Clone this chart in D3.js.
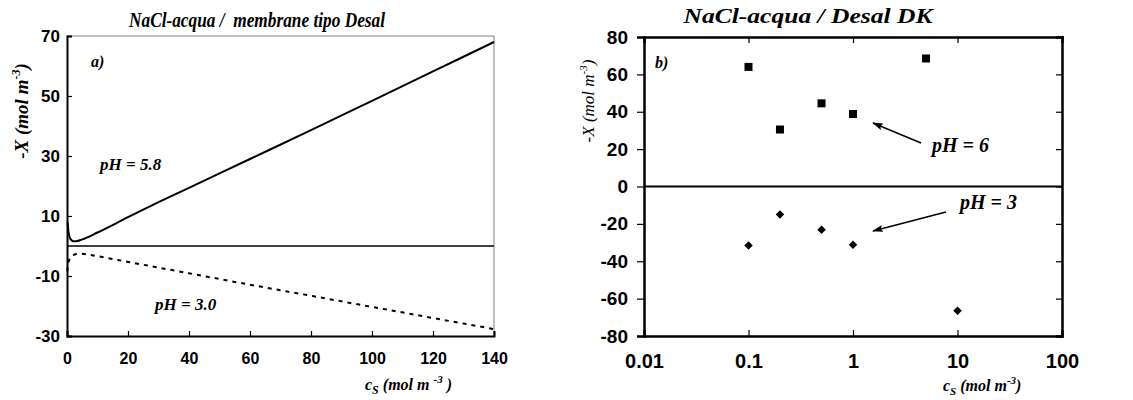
<!DOCTYPE html>
<html>
<head>
<meta charset="utf-8">
<script src="https://cdn.jsdelivr.net/npm/d3@7"></script>
<style>
  html, body { margin: 0; padding: 0; background: #fff; }
  svg { display: block; }
  .tick text { font-family: "Liberation Sans", Arial, sans-serif; font-weight: bold; fill: #000; }
  .serif { font-family: "Liberation Serif", "Times New Roman", serif; fill: #000; }
</style>
</head>
<body>
<svg id="chart" width="1133" height="400"></svg>
<script>
// ---- Panel a): fixed-charge curves along the salt concentration ----
const csA = [0.2, 0.5, 1, 1.5, 2, 3, 5, 10, 20, 30, 40, 60, 80, 100, 120, 140];
const xPH58 = [8, 4.5, 2.6, 1.9, 1.6, 1.6, 2.2, 4.5, 9.6, 14.6, 19.4, 29, 38.6, 48.4, 58.2, 68];
const csA3 = [0.1, 0.3, 0.6, 1, 2, 3, 4, 5, 7, 10, 20, 40, 60, 80, 100, 120, 140];
const xPH30 = [-8.5, -6.5, -5, -4, -3.1, -2.7, -2.6, -2.6, -2.9, -3.4, -5.3, -9.1, -12.9, -16.6, -20.3, -24, -27.7];
const ticksAx = [0, 20, 40, 60, 80, 100, 120, 140];
const ticksAy = [-30, -10, 10, 30, 50, 70];

// ---- Panel b): measured points, Desal DK ----
const csB6 = [0.1, 0.2, 0.5, 1, 5];
const xPH6 = [64, 30.5, 44.5, 38.8, 68.5];
const csB3 = [0.1, 0.2, 0.5, 1, 10];
const xPH3 = [-31.6, -15, -23.2, -31.2, -66.5];
const ticksBx = [0.01, 0.1, 1, 10, 100];
const ticksBxLabels = ["0.01", "0.1", "1", "10", "100"];
const ticksBy = [-80, -60, -40, -20, 0, 20, 40, 60, 80];

const svg = d3.select("#chart");
const plain = d => String(d); // tick labels with an ASCII hyphen for negatives

// arrowhead marker (tip at the end of the line)
svg.append("defs").append("marker")
  .attr("id", "arrow")
  .attr("viewBox", "0 0 11 7")
  .attr("refX", 10).attr("refY", 3.5)
  .attr("markerWidth", 11).attr("markerHeight", 7)
  .attr("markerUnits", "userSpaceOnUse")
  .attr("orient", "auto")
  .append("path").attr("d", "M0,0 L11,3.5 L0,7 L2,3.5 Z").attr("fill", "#000");

// helper for label text with sub/superscripts
function richText(g, parts) {
  parts.forEach(p => {
    const t = g.append("tspan").text(p.t);
    if (p.dy) t.attr("dy", p.dy);
    if (p.size) t.attr("font-size", p.size);
  });
  return g;
}

// ================= Panel a =================
const xA = d3.scaleLinear().domain([0, 140]).range([67, 494]);
const yA = d3.scaleLinear().domain([-30, 70]).range([336, 36]);
const gA = svg.append("g");

// frame: thin grey top/right
gA.append("line").attr("x1", xA(0)).attr("x2", xA(140)).attr("y1", yA(70)).attr("y2", yA(70))
  .attr("stroke", "#808080").attr("stroke-width", 1);
gA.append("line").attr("x1", xA(140)).attr("x2", xA(140)).attr("y1", yA(70)).attr("y2", yA(-30))
  .attr("stroke", "#808080").attr("stroke-width", 1);

const axAx = gA.append("g").attr("transform", `translate(0,${yA(-30)})`)
  .call(d3.axisBottom(xA).tickValues(ticksAx).tickSize(-5).tickPadding(17).tickFormat(plain));
axAx.selectAll("text").attr("font-size", 16);
const axAy = gA.append("g").attr("transform", `translate(${xA(0)},0)`)
  .call(d3.axisLeft(yA).tickValues(ticksAy).tickSize(-5).tickPadding(7).tickFormat(plain));
axAy.selectAll("text").attr("font-size", 17);
[axAx, axAy].forEach(a => {
  a.select(".domain").attr("stroke", "#000").attr("stroke-width", 2);
  a.selectAll(".tick line").attr("stroke", "#000").attr("stroke-width", 1.2);
});

// zero line
gA.append("line").attr("x1", xA(0)).attr("x2", xA(140)).attr("y1", yA(0)).attr("y2", yA(0))
  .attr("stroke", "#000").attr("stroke-width", 1.5);

gA.append("path")
  .attr("d", d3.line().curve(d3.curveMonotoneX).x((d, i) => xA(csA[i])).y(d => yA(d))(xPH58))
  .attr("fill", "none").attr("stroke", "#000").attr("stroke-width", 2);
gA.append("path")
  .attr("d", d3.line().curve(d3.curveMonotoneX).x((d, i) => xA(csA3[i])).y(d => yA(d))(xPH30))
  .attr("fill", "none").attr("stroke", "#000").attr("stroke-width", 2)
  .attr("stroke-dasharray", "4,5");

// texts
gA.append("text").attr("class", "serif").attr("x", 257).attr("y", 27).attr("text-anchor", "middle")
  .attr("font-size", 20).attr("font-weight", "bold").attr("font-style", "italic")
  .attr("xml:space", "preserve")
  .attr("textLength", 256).attr("lengthAdjust", "spacingAndGlyphs")
  .text("NaCl-acqua /  membrane tipo Desal");
gA.append("text").attr("class", "serif").attr("x", 91).attr("y", 67)
  .attr("font-size", 16).attr("font-weight", "bold").attr("font-style", "italic").text("a)");
gA.append("text").attr("class", "serif").attr("x", 100).attr("y", 170)
  .attr("font-size", 17).attr("font-weight", "bold").attr("font-style", "italic").text("pH = 5.8");
gA.append("text").attr("class", "serif").attr("x", 155).attr("y", 310)
  .attr("font-size", 17).attr("font-weight", "bold").attr("font-style", "italic").text("pH = 3.0");
richText(gA.append("text").attr("class", "serif")
  .attr("transform", "translate(28,111) rotate(-90)").attr("text-anchor", "middle")
  .attr("font-size", 19).attr("font-weight", "bold").attr("font-style", "italic"),
  [{ t: "-X (mol m" }, { t: "-3", dy: -8, size: 12 }, { t: ")", dy: 8 }]);
richText(gA.append("text").attr("class", "serif")
  .attr("x", 365).attr("y", 390)
  .attr("font-size", 16).attr("font-weight", "bold").attr("font-style", "italic")
  .attr("xml:space", "preserve"),
  [{ t: "c" }, { t: "S", dy: 4, size: 12 }, { t: " (mol m ", dy: -4 }, { t: "-3", dy: -7, size: 11 }, { t: " )", dy: 7 }]);

// ================= Panel b =================
const xB = d3.scaleLog().domain([0.01, 100]).range([644, 1062]);
const yB = d3.scaleLinear().domain([-80, 80]).range([336, 37]);
const gB = svg.append("g");

const axBx = gB.append("g").attr("transform", `translate(0,${yB(-80)})`)
  .call(d3.axisBottom(xB).tickValues(ticksBx).tickSize(-6).tickPadding(18)
    .tickFormat((d, i) => ticksBxLabels[i]));
axBx.selectAll("text").attr("font-size", 20);
const axBxTop = gB.append("g").attr("transform", `translate(0,${yB(80)})`)
  .call(d3.axisTop(xB).tickValues(ticksBx).tickSize(-6).tickFormat(""));
const axBy = gB.append("g").attr("transform", `translate(${xB(0.01)},0)`)
  .call(d3.axisLeft(yB).tickValues(ticksBy).tickSize(7).tickPadding(9).tickFormat(plain));
axBy.selectAll("text").attr("font-size", 19);
const axByR = gB.append("g").attr("transform", `translate(${xB(100)},0)`)
  .call(d3.axisRight(yB).tickValues(ticksBy).tickSize(-6).tickFormat(""));
[axBx, axBxTop, axBy, axByR].forEach(a => {
  a.select(".domain").attr("stroke", "#000").attr("stroke-width", 2.5);
  a.selectAll(".tick line").attr("stroke", "#000").attr("stroke-width", 1.2);
});

// zero line
gB.append("line").attr("x1", xB(0.01)).attr("x2", xB(100)).attr("y1", yB(0)).attr("y2", yB(0))
  .attr("stroke", "#000").attr("stroke-width", 2);

// markers
gB.selectAll(".sq").data(xPH6).join("path").attr("class", "sq")
  .attr("d", d3.symbol(d3.symbolSquare, 64))
  .attr("transform", (d, i) => `translate(${xB(csB6[i])},${yB(d)})`)
  .attr("fill", "#000");
gB.selectAll(".dm").data(xPH3).join("path").attr("class", "dm")
  .attr("d", d3.symbol(d3.symbolSquare, 36))
  .attr("transform", (d, i) => `translate(${xB(csB3[i])},${yB(d)}) rotate(45)`)
  .attr("fill", "#000");

// annotation arrows
gB.append("line").attr("x1", 921).attr("y1", 143).attr("x2", 873).attr("y2", 123)
  .attr("stroke", "#000").attr("stroke-width", 1.5).attr("marker-end", "url(#arrow)");
gB.append("line").attr("x1", 946).attr("y1", 212).attr("x2", 873).attr("y2", 231)
  .attr("stroke", "#000").attr("stroke-width", 1.5).attr("marker-end", "url(#arrow)");

gB.append("text").attr("class", "serif").attr("x", 808).attr("y", 23).attr("text-anchor", "middle")
  .attr("font-size", 21).attr("font-weight", "bold").attr("font-style", "italic")
  .attr("textLength", 249).attr("lengthAdjust", "spacingAndGlyphs")
  .text("NaCl-acqua / Desal DK");
gB.append("text").attr("class", "serif").attr("x", 655).attr("y", 68)
  .attr("font-size", 16).attr("font-weight", "bold").attr("font-style", "italic").text("b)");
gB.append("text").attr("class", "serif").attr("x", 932).attr("y", 152)
  .attr("font-size", 20).attr("font-weight", "bold").attr("font-style", "italic").text("pH = 6");
gB.append("text").attr("class", "serif").attr("x", 960).attr("y", 209)
  .attr("font-size", 20).attr("font-weight", "bold").attr("font-style", "italic").text("pH = 3");
richText(gB.append("text").attr("class", "serif")
  .attr("transform", "translate(594,101) rotate(-90)").attr("text-anchor", "middle")
  .attr("font-size", 17).attr("font-style", "italic"),
  [{ t: "-X (mol m" }, { t: "-3", dy: -7, size: 11 }, { t: ")", dy: 7 }]);
richText(gB.append("text").attr("class", "serif")
  .attr("x", 943).attr("y", 391)
  .attr("font-size", 16).attr("font-weight", "bold").attr("font-style", "italic")
  .attr("xml:space", "preserve"),
  [{ t: "c" }, { t: "S", dy: 4, size: 11 }, { t: " (mol m", dy: -4 }, { t: "-3", dy: -7, size: 11 }, { t: ")", dy: 7 }]);
</script>
</body>
</html>
